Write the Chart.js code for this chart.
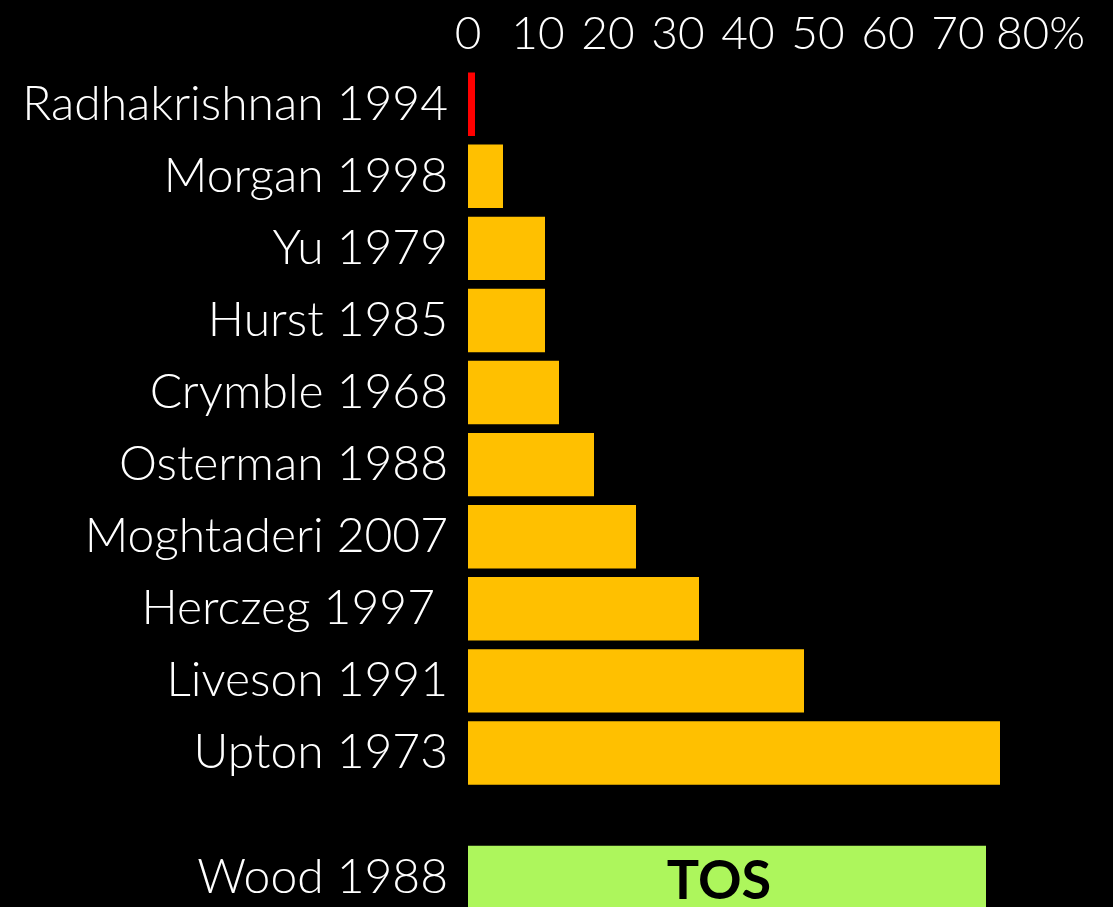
<!DOCTYPE html>
<html>
<head>
<meta charset="utf-8">
<script src="https://cdn.jsdelivr.net/npm/chart.js@4.4.1/dist/chart.umd.min.js"></script>
<style>
  html, body { margin: 0; padding: 0; background: #000; overflow: hidden; }
  #wrap { width: 1113px; height: 907px; }
</style>
</head>
<body>
<div id="wrap"><canvas id="myChart"></canvas></div>
<script>
var studyNames = ['Radhakrishnan 1994', 'Morgan 1998', 'Yu 1979', 'Hurst 1985', 'Crymble 1968',
                  'Osterman 1988', 'Moghtaderi 2007', 'Herczeg 1997 ', 'Liveson 1991', 'Upton 1973'];
var studyValues = [1, 5, 11, 11, 13, 18, 24, 33, 48, 76];
var studyColors = ['#ff0000', '#ffc000', '#ffc000', '#ffc000', '#ffc000',
                   '#ffc000', '#ffc000', '#ffc000', '#ffc000', '#ffc000'];

var woodNames = ['', 'Wood 1988'];
var woodValues = [null, 74];
var woodTag = 'TOS';

var xTicks = [0, 10, 20, 30, 40, 50, 60, 70, 80];

var fontFamily = 'Lato, "Open Sans", sans-serif';

// writes "TOS" in the middle of the green bar
var tagPlugin = {
    id: 'tag',
    afterDatasetsDraw: function(chart) {
        var meta = chart.getDatasetMeta(1);
        var ctx = chart.ctx;
        meta.data.forEach(function(bar, i) {
            if (woodValues[i] == null) return;
            ctx.save();
            ctx.fillStyle = '#000';
            ctx.font = 'bold 54px ' + fontFamily;
            ctx.textAlign = 'center';
            ctx.textBaseline = 'middle';
            ctx.fillText(woodTag, (bar.base + bar.x) / 2 - 8, bar.y + 4);
            ctx.restore();
        });
    }
};

// same label column for both stacked y axes, no extra padding around the labels
function fixWidth(scale) {
    scale.width = 468;
    scale.paddingTop = 0;
    scale.paddingBottom = 0;
}

const ctx = document.getElementById('myChart').getContext('2d');
const myChart = new Chart(ctx, {
    type: 'bar',
    data: {
        labels: studyNames,
        datasets: [{
            data: studyValues,
            backgroundColor: studyColors,
            yAxisID: 'y',
            grouped: false,
            categoryPercentage: 0.88,
            barPercentage: 1
        }, {
            data: woodValues,
            backgroundColor: '#adf65c',
            yAxisID: 'y2',
            grouped: false,
            categoryPercentage: 1,
            barPercentage: 1.08
        }]
    },
    options: {
        indexAxis: 'y',
        responsive: true,
        maintainAspectRatio: false,
        animation: false,
        layout: { padding: { top: 9, right: 85, bottom: -11, left: 0 } },
        plugins: { legend: { display: false }, tooltip: { enabled: false } },
        scales: {
            x: {
                position: 'top',
                min: 0,
                max: 80,
                afterBuildTicks: function(scale) {
                    scale.ticks = xTicks.map(function(v) { return { value: v }; });
                },
                grid: { display: false },
                border: { display: false },
                ticks: {
                    color: '#fff',
                    font: { family: fontFamily, size: 46, weight: 300 },
                    padding: -2,
                    autoSkip: false,
                    maxRotation: 0,
                    callback: function(v) { return v === 80 ? '  80%' : v; }
                }
            },
            y: {
                type: 'category',
                stack: 'rows',
                stackWeight: 727,
                weight: 1,
                afterFit: fixWidth,
                grid: { display: false },
                border: { display: false },
                ticks: { color: '#fff', font: { family: fontFamily, size: 48, weight: 300 }, padding: 12, autoSkip: false }
            },
            y2: {
                type: 'category',
                labels: woodNames,
                position: 'left',
                stack: 'rows',
                stackWeight: 119,
                weight: 0,
                afterFit: fixWidth,
                grid: { display: false },
                border: { display: false },
                ticks: { color: '#fff', font: { family: fontFamily, size: 48, weight: 300 }, padding: 12, autoSkip: false }
            }
        }
    },
    plugins: [tagPlugin]
});
</script>
</body>
</html>
